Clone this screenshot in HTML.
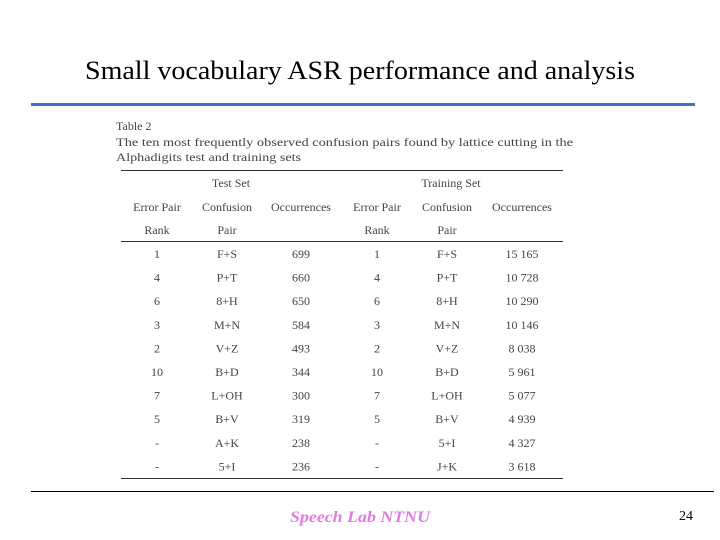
<!DOCTYPE html>
<html><head><meta charset="utf-8"><style>
html,body{margin:0;padding:0;background:#fff;}
svg{display:block;font-family:"Liberation Serif",serif;}
</style></head><body>
<svg width="720" height="540" viewBox="0 0 720 540">
<text x="360" y="79" text-anchor="middle" font-size="26" textLength="550" lengthAdjust="spacingAndGlyphs" fill="#000">Small vocabulary ASR performance and analysis</text>
<rect x="31" y="103" width="664" height="3" fill="#4472C4"/>
<g fill="#444" font-size="12">
<text x="116" y="130">Table 2</text>
<text x="116" y="146" textLength="457" lengthAdjust="spacingAndGlyphs">The ten most frequently observed confusion pairs found by lattice cutting in the</text>
<text x="116" y="161" textLength="185" lengthAdjust="spacingAndGlyphs">Alphadigits test and training sets</text>
</g>
<g stroke="#333" stroke-width="1">
<line x1="121" y1="170.5" x2="563" y2="170.5"/>
<line x1="121" y1="241.5" x2="563" y2="241.5"/>
<line x1="121" y1="478.5" x2="563" y2="478.5"/>
</g>
<g fill="#444" font-size="12" text-anchor="middle">
<text x="231" y="187">Test Set</text>
<text x="451" y="187">Training Set</text>
<text x="157" y="211">Error Pair</text><text x="227" y="211">Confusion</text><text x="301" y="211">Occurrences</text>
<text x="377" y="211">Error Pair</text><text x="447" y="211">Confusion</text><text x="522" y="211">Occurrences</text>
<text x="157" y="234">Rank</text><text x="227" y="234">Pair</text>
<text x="377" y="234">Rank</text><text x="447" y="234">Pair</text>
</g>
<g id="body" fill="#444" font-size="12" text-anchor="middle"></g>
<line x1="31" y1="491.5" x2="714" y2="491.5" stroke="#000" stroke-width="1"/>
<text x="360" y="522" text-anchor="middle" font-size="16" font-style="italic" font-weight="bold" fill="#E07BE0" textLength="140" lengthAdjust="spacingAndGlyphs">Speech Lab NTNU</text>
<text x="686" y="520" text-anchor="middle" font-size="14" fill="#000">24</text>
</svg>
<script>
const testRank=["1","4","6","3","2","10","7","5","-","-"];
const testPair=["F+S","P+T","8+H","M+N","V+Z","B+D","L+OH","B+V","A+K","5+I"];
const testOcc=["699","660","650","584","493","344","300","319","238","236"];
const trainRank=["1","4","6","3","2","10","7","5","-","-"];
const trainPair=["F+S","P+T","8+H","M+N","V+Z","B+D","L+OH","B+V","5+I","J+K"];
const trainOcc=["15 165","10 728","10 290","10 146","8 038","5 961","5 077","4 939","4 327","3 618"];
const g=document.getElementById('body');
const cols=[[157,testRank],[227,testPair],[301,testOcc],[377,trainRank],[447,trainPair],[522,trainOcc]];
for(let r=0;r<testRank.length;r++){
  const y=258+r*23.6;
  for(const [x,arr] of cols){
    const t=document.createElementNS('http://www.w3.org/2000/svg','text');
    t.setAttribute('x',x);t.setAttribute('y',y);
    t.textContent=arr[r];
    
    
    g.appendChild(t);
  }
}
</script>
</body></html>
